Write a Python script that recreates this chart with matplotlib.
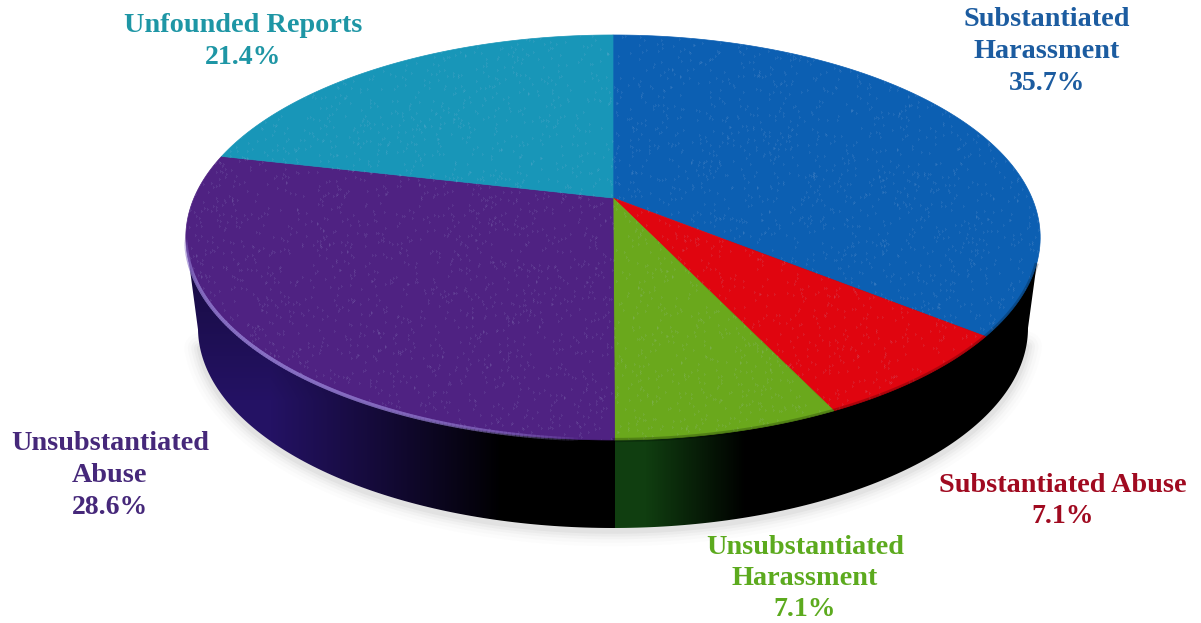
import matplotlib
matplotlib.use("Agg")
import matplotlib.pyplot as plt
import numpy as np
from matplotlib.patches import Polygon

# dane z wykresu, od gory zgodnie z ruchem wskazowek
labels = [["Substantiated", "Harassment"], ["Substantiated Abuse"], ["Unsubstantiated", "Harassment"],
          ["Unsubstantiated", "Abuse"], ["Unfounded Reports"]]
values = [35.7, 7.1, 7.1, 28.6, 21.4]
percent = ["35.7%", "7.1%", "7.1%", "28.6%", "21.4%"]
top_colors = ["#0c5fb2", "#e0050f", "#6aa81c", "#4f2282", "#1896b8"]
text_colors = ["#1c5ca0", "#a00a20", "#5caa1e", "#46287a", "#1e96a5"]
text_pos = [(1047, 20), (1063, 485), (805, 547), (110, 444), (243, 26)]

CX, CY = 613, 198  # punkt zbiegu wycinkow
A, B, K = 194.8, 419, 0.195  # perspektywa gornej powierzchni


def rzut(theta):
    # kat od gory (zgodnie z zegarem) -> piksele
    u = np.sin(theta)
    v = np.cos(theta)
    d = 1 + K * v
    return CX + B * u / d, CY - A * v / d


fig = plt.figure(figsize=(12.01, 6.23), dpi=100)
ax = fig.add_axes([0, 0, 1, 1])
ax.set_xlim(0, 1201)
ax.set_ylim(623, 0)
ax.axis("off")

# dolna krawedz bryly
t = np.linspace(0, 2 * np.pi, 400)
bot_x = 613 + 415 * np.cos(t)
bot_y = 328 + 200 * np.sin(t)

# cien pod spodem
for w, a in zip([22, 17, 12, 8, 4], [0.015, 0.02, 0.03, 0.04, 0.06]):
    ax.plot(bot_x[5:195], bot_y[5:195] + 3, color="#555555", lw=w, alpha=a, zorder=1, solid_capstyle="round")

# bok - gradient przyciety do obrysu
clip = Polygon(np.vstack([[[186, 240], [1040, 240]], np.column_stack([bot_x[0:200], bot_y[0:200]])]),
               transform=ax.transData, fc="none", ec="none")
ax.add_patch(clip)
xx, yy = np.meshgrid(np.arange(1201), np.arange(623))
img = np.zeros((623, 1201, 3))
fade_purple = np.clip((500 - xx) / 230, 0, 1) ** 0.9
fade_down = np.clip(0.75 + (yy - 300) / 400, 0.7, 1)
img[..., 0] = 36 * fade_purple * fade_down
img[..., 1] = 18 * fade_purple * fade_down
img[..., 2] = 100 * fade_purple * fade_down
green = (xx >= 615) & (xx < 745)
fade_green = np.clip((745 - xx) / 100, 0, 1)
img[..., 0][green] = (16 * fade_green)[green]
img[..., 1][green] = (62 * fade_green)[green]
img[..., 2][green] = (16 * fade_green)[green]
im = ax.imshow(img / 255, extent=(0, 1201, 623, 0), aspect="auto", zorder=2)
im.set_clip_path(clip)

# wycinki gornej powierzchni
frac = np.array(values) / sum(values)
edges = np.concatenate([[0], np.cumsum(frac)]) * 2 * np.pi
for i in range(len(values)):
    th = np.linspace(edges[i], edges[i + 1], 120)
    x, y = rzut(th)
    pts = np.vstack([[[CX, CY]], np.column_stack([x, y])])
    ax.add_patch(Polygon(pts, fc=top_colors[i], ec=top_colors[i], lw=0.5, zorder=3))

# ziarno na gornej powierzchni (tylko tekstura wydruku)
rng = np.random.default_rng(3)
grain = (rng.random((623, 1201)) > 0.985).astype(float)
grain = (grain + np.roll(grain, 1, 0) + np.roll(grain, 1, 1) + np.roll(grain, -1, 0)) / 4
ziarno = np.ones((623, 1201, 4))
ziarno[..., 0:3] = [0.72, 0.78, 0.9]
ziarno[..., 3] = grain * 0.42
x, y = rzut(t)
clip2 = Polygon(np.column_stack([x, y]), transform=ax.transData, fc="none", ec="none")
ax.add_patch(clip2)
im2 = ax.imshow(ziarno, extent=(0, 1201, 623, 0), aspect="auto", zorder=3.5)
im2.set_clip_path(clip2)
ax.set_xlim(0, 1201)
ax.set_ylim(623, 0)

# jasna krawedz przy fioletowym wycinku
th = np.linspace(np.pi * 1.02, np.radians(258), 160)
x, y = rzut(th)
for j in range(len(th) - 1):
    a = 0.65 * np.sin(np.pi * j / (len(th) - 1)) ** 0.6
    ax.plot(x[j:j + 2], y[j:j + 2], color="#8f78cc", lw=2.6, alpha=a, zorder=4)

# ciemniejszy brzeg na czerwonym i zielonym
th = np.linspace(edges[0] + 1.9, edges[3], 80)
x, y = rzut(th)
ax.plot(x, y, color="#000000", lw=3, alpha=0.22, zorder=4)

# teksty
for i in range(len(values)):
    x0, y0 = text_pos[i]
    for n, line in enumerate(labels[i]):
        ax.text(x0, y0 + n * 31.5, line, color=text_colors[i], ha="center", va="center",
                family="Liberation Serif", weight="bold", fontsize=20.3, zorder=5)
    ax.text(x0, y0 + len(labels[i]) * 31.5, percent[i], color=text_colors[i], ha="center", va="center",
            family="Liberation Serif", weight="bold", fontsize=20, zorder=5)

fig.savefig("out.png", dpi=100)
